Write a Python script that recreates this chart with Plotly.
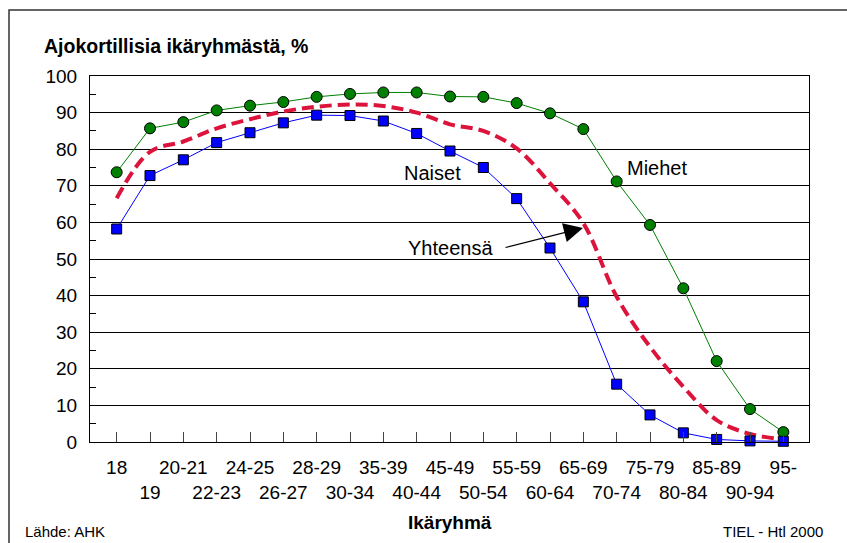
import plotly.graph_objects as go

# Age groups (x categories)
age_groups = ["18", "19", "20-21", "22-23", "24-25", "26-27", "28-29", "30-34",
              "35-39", "40-44", "45-49", "50-54", "55-59", "60-64", "65-69",
              "70-74", "75-79", "80-84", "85-89", "90-94", "95-"]

# Share of driving licence holders in each age group, %
miehet = [73.7, 85.7, 87.4, 90.6, 91.9, 92.9, 94.3, 95.1, 95.5, 95.5, 94.4,
          94.3, 92.6, 89.8, 85.5, 71.2, 59.3, 42.0, 22.1, 9.0, 2.7]
naiset = [58.2, 72.8, 77.1, 81.8, 84.5, 87.2, 89.3, 89.2, 87.7, 84.3, 79.5,
          75.0, 66.5, 53.0, 38.3, 15.8, 7.4, 2.5, 0.7, 0.3, 0.2]
yhteensa = [66.6, 79.3, 82.1, 85.7, 88.2, 90.3, 91.6, 92.2, 91.8, 90.0, 86.8,
            85.0, 80.2, 70.7, 59.8, 39.7, 26.0, 15.1, 6.0, 2.2, 0.7]

x = list(range(len(age_groups)))
# two-row tick labels: even categories on the first row, odd ones on the second
tick_text = [g if i % 2 == 0 else "<br>" + g for i, g in enumerate(age_groups)]

FONT = "Liberation Sans, Arial, sans-serif"

W, H = 847, 543
L, R, T, B = 90, 38, 76, 101
pw, ph = W - L - R, H - T - B


def px_to_paper(px, py):
    return (px - L) / pw, (H - B - py) / ph


fig = go.Figure()

fig.add_trace(go.Scatter(
    x=x, y=yhteensa, mode="lines", name="Yhteensä",
    line=dict(color="#DC143C", width=4, dash="12px,6px", shape="spline", smoothing=1.0),
    cliponaxis=False,
))
fig.add_trace(go.Scatter(
    x=x, y=miehet, mode="lines+markers", name="Miehet",
    line=dict(color="#008000", width=1),
    marker=dict(symbol="circle", size=11, color="#008000",
                line=dict(color="#000000", width=1)),
    cliponaxis=False,
))
fig.add_trace(go.Scatter(
    x=x, y=naiset, mode="lines+markers", name="Naiset",
    line=dict(color="#0000FF", width=1),
    marker=dict(symbol="square", size=10, color="#0000FF",
                line=dict(color="#000000", width=1)),
    cliponaxis=False,
))

# series labels
series_font = dict(size=20, color="black", family=FONT)
fig.add_annotation(x=9.46, y=73.5, xref="x", yref="y", text="Naiset",
                   showarrow=False, font=series_font)
fig.add_annotation(x=16.2, y=74.9, xref="x", yref="y", text="Miehet",
                   showarrow=False, font=series_font)
fig.add_annotation(x=10.0, y=53.0, xref="x", yref="y", text="Yhteensä",
                   showarrow=False, font=series_font)
# pointer from the total label to the dashed curve
fig.add_annotation(x=13.99, y=58.5, xref="x", yref="y", text="",
                   showarrow=True, arrowhead=2, arrowsize=3.2, arrowwidth=1.2,
                   arrowcolor="black", ax=-79, ay=20, standoff=0)

# titles and footnotes, placed by pixel position
texts = [
    ("<b>Ajokortillisia ikäryhmästä, %</b>", 42, 46, "left", 19.5),
    ("<b>Ikäryhmä</b>", 450, 522, "center", 19),
    ("Lähde: AHK", 23, 531, "left", 15),
    ("TIEL - Htl 2000", 825, 531, "right", 15),
]
for txt, px, py, xa, fs in texts:
    xp, yp = px_to_paper(px, py)
    fig.add_annotation(x=xp, y=yp, xref="paper", yref="paper", text=txt,
                       xanchor=xa, yanchor="middle", showarrow=False,
                       font=dict(size=fs, color="black", family=FONT))

# outer frame (top and left edges visible)
x0p, y0p = px_to_paper(9, 10)
x1p, y1p = px_to_paper(900, 600)
fig.add_shape(type="rect", xref="paper", yref="paper", x0=x0p, y0=y1p, x1=x1p, y1=y0p,
              line=dict(color="#333333", width=1.5), layer="below")

fig.update_layout(
    width=W, height=H,
    margin=dict(l=L, r=R, t=T, b=B, pad=0),
    paper_bgcolor="white", plot_bgcolor="white",
    showlegend=False,
    font=dict(family=FONT, size=19, color="black"),
    xaxis=dict(
        range=[-0.8, 20.77], tickmode="array", tickvals=x, ticktext=tick_text,
        tickangle=0,
        ticks="inside", ticklen=10, tickcolor="#444444", tickwidth=1,
        showgrid=False, zeroline=False,
        showline=True, linecolor="black", linewidth=1, mirror=True,
        tickfont=dict(size=19, family=FONT, color="black"),
        ticklabelstandoff=8,
        fixedrange=True,
    ),
    yaxis=dict(
        range=[0, 100], tickmode="linear", tick0=0, dtick=10,
        ticks="inside", ticklen=6, tickcolor="black",
        showgrid=True, gridcolor="black", gridwidth=1,
        zeroline=False,
        showline=True, linecolor="black", linewidth=1, mirror=True,
        tickfont=dict(size=19, family=FONT, color="black"),
        minor=dict(dtick=5, ticks="inside", ticklen=6, tickcolor="black", showgrid=False),
        ticklabelstandoff=8,
        fixedrange=True,
    ),
)

fig.write_html("out.html")
